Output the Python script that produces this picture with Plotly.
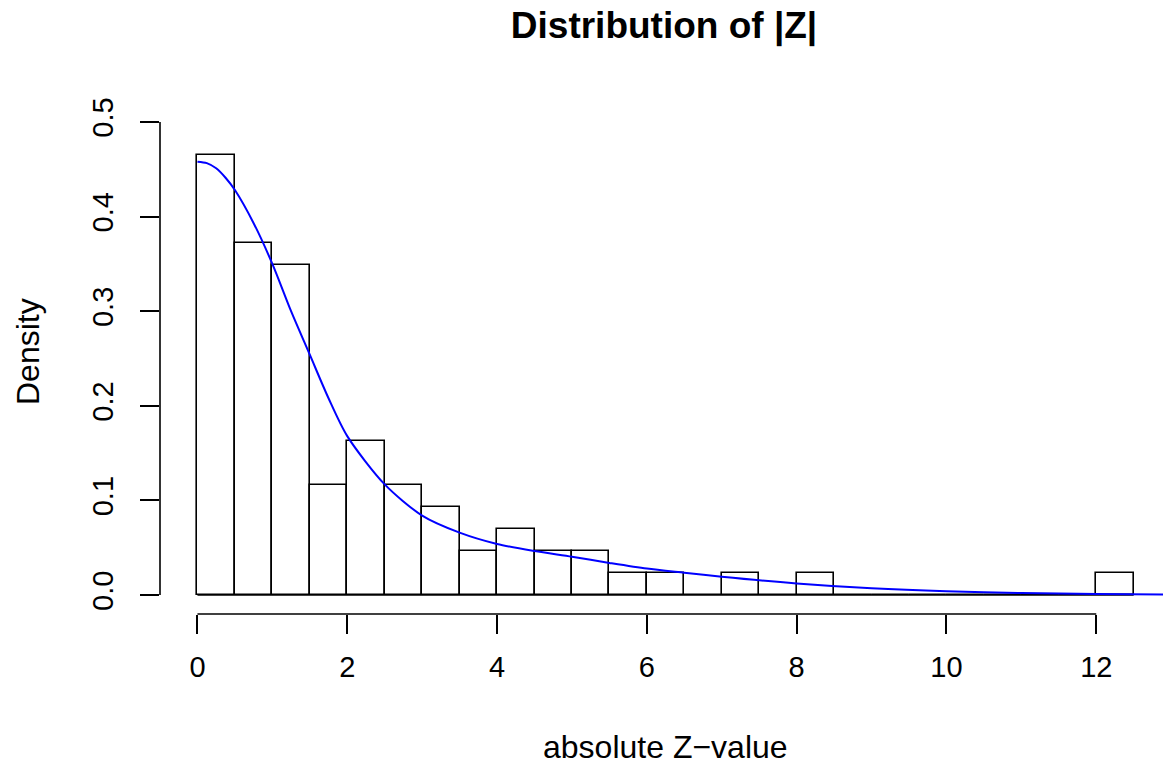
import plotly.graph_objects as go

# ---- data ----
bin_edges = [0.0, 0.5, 1.0, 1.5, 2.0, 2.5, 3.0, 3.5, 4.0, 4.5, 5.0, 5.5, 6.0, 6.5,
             7.0, 7.5, 8.0, 8.5, 9.0, 9.5, 10.0, 10.5, 11.0, 11.5, 12.0, 12.5]
bin_counts = [20, 16, 15, 5, 7, 5, 4, 2, 3, 2, 2, 1, 1, 0,
              1, 0, 1, 0, 0, 0, 0, 0, 0, 0, 1]

curve_x = [0, 0.125, 0.25, 0.375, 0.5, 0.75, 1.0, 1.25, 1.5, 1.75, 2.0, 2.5, 3.0, 3.5,
           4.0, 4.5, 5.0, 5.5, 6.0, 6.5, 7.0, 8.0, 9.0, 10.0, 11.0, 12.0, 13.0]
curve_y = [0.458, 0.4565, 0.451, 0.441, 0.428, 0.393, 0.350, 0.300, 0.254, 0.208,
           0.168, 0.117, 0.084, 0.066, 0.054, 0.0465, 0.0405, 0.034, 0.028, 0.0236,
           0.0194, 0.0123, 0.0072, 0.0040, 0.0022, 0.0012, 0.0005]

x_ticks = [0, 2, 4, 6, 8, 10, 12]
y_ticks = [0.0, 0.1, 0.2, 0.3, 0.4, 0.5]
y_tick_text = ["0.0", "0.1", "0.2", "0.3", "0.4", "0.5"]

title_text = "Distribution of |Z|"
x_label = "absolute Z\u2212value"
y_label = "Density"

# ---- derived ----
n_total = sum(bin_counts)
widths = [b - a for a, b in zip(bin_edges[:-1], bin_edges[1:])]
centers = [(a + b) / 2 for a, b in zip(bin_edges[:-1], bin_edges[1:])]
density = [c / (n_total * w) for c, w in zip(bin_counts, widths)]

FONT = "Liberation Sans, Arial, Helvetica, sans-serif"
W, H = 1163, 764
ML, MR, MT, MB = 160, 0, 103, 150
plot_h = H - MT - MB
plot_w = W - ML - MR


def py_to_paper(py):
    return (H - MB - py) / plot_h


def px_to_paper(px):
    return (px - ML) / plot_w


fig = go.Figure()

# baseline drawn by R for empty bins
fig.add_trace(go.Scatter(
    x=[bin_edges[0], bin_edges[-1]], y=[0, 0], mode="lines",
    line=dict(color="black", width=1.6), showlegend=False, hoverinfo="skip"))

fig.add_trace(go.Bar(
    x=centers, y=density, width=widths,
    marker=dict(color="white", line=dict(color="black", width=1.6)),
    showlegend=False))

fig.add_trace(go.Scatter(
    x=curve_x, y=curve_y, mode="lines",
    line=dict(color="#0000FF", width=2, shape="spline", smoothing=0.8),
    showlegend=False, cliponaxis=True))

fig.update_layout(
    width=W, height=H,
    margin=dict(l=ML, r=MR, t=MT, b=MB, autoexpand=False),
    plot_bgcolor="white", paper_bgcolor="white",
    font=dict(family=FONT, color="black"),
    bargap=0,
    title=dict(text="<b>" + title_text + "</b>", x=664 / W, xanchor="center",
               y=1 - 25 / H, yanchor="middle", yref="container",
               font=dict(size=37, family=FONT, color="black")),
    xaxis=dict(range=[-0.5, -0.5 + plot_w / 74.9], tickvals=x_ticks,
               ticktext=[str(v) for v in x_ticks],
               ticks="outside", ticklen=19, tickwidth=1.6, tickcolor="black",
               showgrid=False, zeroline=False, showline=False,
               tickfont=dict(size=29, family=FONT), automargin=False,
               ticklabelstandoff=8),
    yaxis=dict(range=[-0.02, 0.52], tickvals=y_ticks, ticktext=y_tick_text,
               ticks="outside", ticklen=19, tickwidth=1.6, tickcolor="black",
               showgrid=False, zeroline=False, showline=False, tickangle=-90,
               tickfont=dict(size=29, family=FONT), automargin=False,
               ticklabelstandoff=15),
    shapes=[
        dict(type="line", xref="x", yref="paper", x0=x_ticks[0], x1=x_ticks[-1],
             y0=0, y1=0, line=dict(color="black", width=1.6)),
        dict(type="line", xref="paper", yref="y", x0=0, x1=0,
             y0=y_ticks[0], y1=y_ticks[-1], line=dict(color="black", width=1.6)),
    ],
    annotations=[
        dict(text=x_label, xref="x", x=6.25, yref="paper", y=py_to_paper(747),
             xanchor="center", yanchor="middle", showarrow=False,
             font=dict(size=32, family=FONT)),
        dict(text=y_label, xref="paper", x=px_to_paper(28), yref="paper",
             y=py_to_paper(352), xanchor="center", yanchor="middle",
             textangle=-90, showarrow=False, font=dict(size=32, family=FONT)),
    ],
)

fig.write_html("out.html", config={"displayModeBar": False},
               post_script="document.body.style.margin='0';document.body.style.overflow='hidden';")
